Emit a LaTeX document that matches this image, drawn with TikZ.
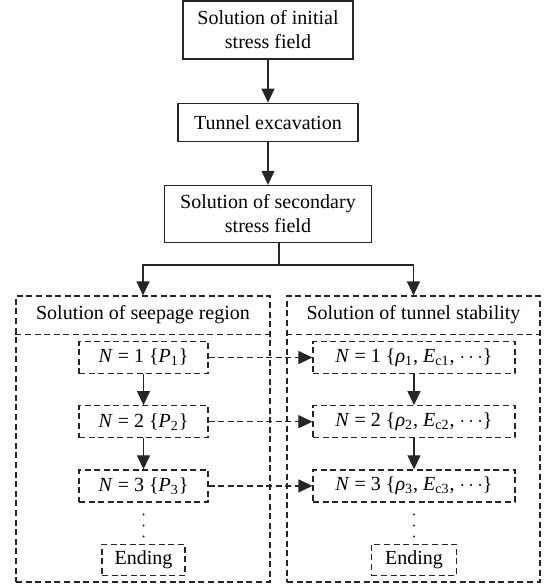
\documentclass[tikz,border=0pt]{standalone}
\usepackage{fontspec}
\setmainfont{Liberation Serif}
\usetikzlibrary{arrows.meta,positioning}

\begin{document}
\begin{tikzpicture}[
    node distance=21.5pt,
    box/.style={rectangle, draw=black!85, line width=0.6pt, inner sep=2pt, align=center},
    dbox/.style={box, dash pattern=on 3pt off 1.8pt},
    arrow/.style={-{Triangle[length=7pt,width=6.5pt]}, draw=black!85, line width=0.6pt},
    darrow/.style={arrow, dash pattern=on 3pt off 1.8pt}
]
    \useasboundingbox (0,0) rectangle (272pt,-293pt);

    \node[box, minimum width=85pt, minimum height=29pt] (init) at (134pt,-15pt) {Solution of initial\\stress field};
    \node[box, below=of init, minimum width=90pt, minimum height=19pt] (exc) {Tunnel excavation};
    \node[box, below=of exc, minimum width=103.5pt, minimum height=28.5pt] (sec) {Solution of secondary\\stress field};

    % two dashed frames
    \node[dbox, minimum width=127pt, minimum height=143pt] (seep) at (71.5pt,-219.5pt) {};
    \node[anchor=north, minimum height=19pt, inner sep=0pt] (seephead) at (seep.north) {Solution of seepage region};
    \node[dbox, minimum width=126.5pt, minimum height=143pt] (stab) at (206.75pt,-219.5pt) {};
    \node[anchor=north, minimum height=19pt, inner sep=0pt] (stabhead) at (stab.north) {Solution of tunnel stability};
    \draw[dbox] (seep.west |- seephead.south) -- (seep.east |- seephead.south);
    \draw[dbox] (stab.west |- stabhead.south) -- (stab.east |- stabhead.south);

    % seepage steps
    \node[dbox, minimum width=64.5pt, minimum height=16pt] (p1) at (71.75pt,-178.75pt) {\textit{N} = 1 \{\textit{P}\textsubscript{1}\}};
    \node[dbox, below=15.5pt of p1, minimum width=64.5pt, minimum height=16pt] (p2) {\textit{N} = 2 \{\textit{P}\textsubscript{2}\}};
    \node[dbox, below=15.5pt of p2, minimum width=64.5pt, minimum height=16pt] (p3) {\textit{N} = 3 \{\textit{P}\textsubscript{3}\}};
    \node[dbox, below=20.5pt of p3, minimum width=41.5pt, minimum height=15.5pt] (pend) {Ending};

    % stability steps
    \node[dbox, minimum width=101pt, minimum height=16pt] (r1) at (207pt,-178.75pt) {\textit{N} = 1 \{\textit{ρ}\textsubscript{1}, \textit{E}\textsubscript{c1}, $\cdots$\}};
    \node[dbox, below=15.5pt of r1, minimum width=101pt, minimum height=16pt] (r2) {\textit{N} = 2 \{\textit{ρ}\textsubscript{2}, \textit{E}\textsubscript{c2}, $\cdots$\}};
    \node[dbox, below=15.5pt of r2, minimum width=101pt, minimum height=16pt] (r3) {\textit{N} = 3 \{\textit{ρ}\textsubscript{3}, \textit{E}\textsubscript{c3}, $\cdots$\}};
    \node[dbox, below=20.5pt of r3, minimum width=42.5pt, minimum height=15.5pt] (rend) {Ending};

    % vertical dots
    \foreach \y in {0,5.5,11} {
        \fill[black!85] ([yshift=-6pt-\y pt]p3.south) circle (0.6pt);
        \fill[black!85] ([yshift=-6pt-\y pt]r3.south) circle (0.6pt);
    }

    \draw[arrow] (init) -- (exc);
    \draw[arrow] (exc) -- (sec);
    \coordinate (fork) at ([xshift=5.5pt,yshift=-11pt]sec.south);
    \draw[draw=black!85, line width=0.6pt] ([xshift=5.5pt]sec.south) -- (fork);
    \draw[arrow] (fork) -| (seep.north);
    \draw[arrow] (fork) -| (stab.north);

    \draw[arrow] (p1) -- (p2);
    \draw[arrow] (p2) -- (p3);
    \draw[arrow] (r1) -- (r2);
    \draw[arrow] (r2) -- (r3);
    \draw[darrow] (p1) -- (r1);
    \draw[darrow] (p2) -- (r2);
    \draw[darrow] (p3) -- (r3);
\end{tikzpicture}
\end{document}
